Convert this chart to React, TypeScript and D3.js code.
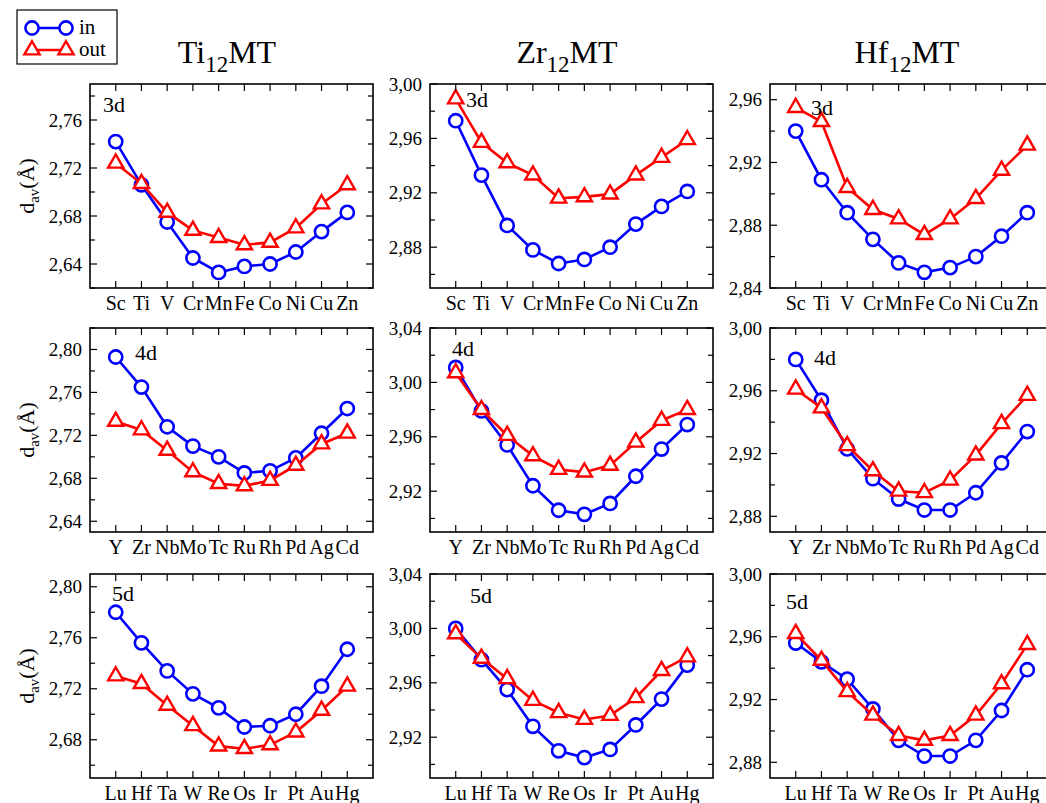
import React from "react";
import * as d3 from "d3";

// ---------- data ----------
const elements3d = ["Sc", "Ti", "V", "Cr", "Mn", "Fe", "Co", "Ni", "Cu", "Zn"];
const elements4d = ["Y", "Zr", "Nb", "Mo", "Tc", "Ru", "Rh", "Pd", "Ag", "Cd"];
const elements5d = ["Lu", "Hf", "Ta", "W", "Re", "Os", "Ir", "Pt", "Au", "Hg"];

const hosts = ["Ti", "Zr", "Hf"];
const rowLabels = ["3d", "4d", "5d"];
const seriesNames = ["in", "out"];

const ti3dIn = [2.742, 2.706, 2.675, 2.645, 2.633, 2.638, 2.64, 2.65, 2.667, 2.683];
const ti3dOut = [2.724, 2.707, 2.683, 2.668, 2.662, 2.656, 2.658, 2.67, 2.69, 2.706];
const zr3dIn = [2.973, 2.933, 2.896, 2.878, 2.868, 2.871, 2.88, 2.897, 2.91, 2.921];
const zr3dOut = [2.989, 2.957, 2.942, 2.933, 2.916, 2.917, 2.919, 2.933, 2.946, 2.959];
const hf3dIn = [2.94, 2.909, 2.888, 2.871, 2.856, 2.85, 2.853, 2.86, 2.873, 2.888];
const hf3dOut = [2.955, 2.946, 2.904, 2.89, 2.884, 2.874, 2.884, 2.897, 2.915, 2.931];

const ti4dIn = [2.793, 2.765, 2.728, 2.71, 2.7, 2.685, 2.687, 2.699, 2.722, 2.745];
const ti4dOut = [2.733, 2.725, 2.706, 2.686, 2.675, 2.673, 2.678, 2.692, 2.712, 2.722];
const zr4dIn = [3.011, 2.979, 2.954, 2.924, 2.906, 2.903, 2.911, 2.931, 2.951, 2.969];
const zr4dOut = [3.007, 2.98, 2.961, 2.946, 2.936, 2.934, 2.939, 2.956, 2.972, 2.98];
const hf4dIn = [2.98, 2.954, 2.923, 2.904, 2.891, 2.884, 2.884, 2.895, 2.914, 2.934];
const hf4dOut = [2.961, 2.949, 2.925, 2.909, 2.896, 2.895, 2.903, 2.919, 2.939, 2.957];

const ti5dIn = [2.78, 2.756, 2.734, 2.716, 2.705, 2.69, 2.691, 2.7, 2.722, 2.751];
const ti5dOut = [2.73, 2.724, 2.707, 2.691, 2.675, 2.673, 2.676, 2.686, 2.703, 2.722];
const zr5dIn = [3.0, 2.977, 2.955, 2.928, 2.91, 2.905, 2.911, 2.929, 2.948, 2.973];
const zr5dOut = [2.996, 2.978, 2.963, 2.947, 2.938, 2.933, 2.936, 2.949, 2.969, 2.979];
const hf5dIn = [2.956, 2.944, 2.933, 2.914, 2.894, 2.884, 2.884, 2.894, 2.913, 2.939];
const hf5dOut = [2.962, 2.945, 2.925, 2.91, 2.897, 2.894, 2.897, 2.91, 2.93, 2.955];

// y-axis ranges per panel [row][col]
const yDomains = [
  [[2.62, 2.79], [2.85, 3.0], [2.84, 2.97]],
  [[2.63, 2.82], [2.89, 3.04], [2.87, 3.0]],
  [[2.65, 2.81], [2.89, 3.04], [2.87, 3.0]],
];

const rowElements = [elements3d, elements4d, elements5d];
const inData = [
  [ti3dIn, zr3dIn, hf3dIn],
  [ti4dIn, zr4dIn, hf4dIn],
  [ti5dIn, zr5dIn, hf5dIn],
];
const outData = [
  [ti3dOut, zr3dOut, hf3dOut],
  [ti4dOut, zr4dOut, hf4dOut],
  [ti5dOut, zr5dOut, hf5dOut],
];

// ---------- layout ----------
const W = 1046;
const H = 803;
const colLeft = [90, 430, 770];
const panelW = 283;
const rowTop = [84, 328, 574];
const panelH = 204;
// panel label offsets (px from panel's top-left)
const labelOffsets = [
  [[13, 28], [36, 23], [41, 31]],
  [[45, 32], [22, 28], [44, 37]],
  [[22, 27], [40, 29], [16, 35]],
];

const BLUE = "#0000ff";
const RED = "#ff0000";
const FONT = "'Liberation Serif', 'Times New Roman', serif";

const fmt = (v: number) => d3.format(".2f")(v).replace(".", ",");
const triPath = d3.symbol().type(d3.symbolTriangle).size(100)() as string;

function Panel({ r, c }: { r: number; c: number }) {
  const left = colLeft[c];
  const top = rowTop[r];
  const cats = rowElements[r];
  const x = d3.scaleLinear().domain([-1, cats.length]).range([left, left + panelW]);
  const y = d3.scaleLinear().domain(yDomains[r][c]).range([top + panelH, top]);
  const [lo, hi] = yDomains[r][c];
  const major: number[] = [];
  const minor: number[] = [];
  for (let k = Math.ceil(lo / 0.02 - 1e-6); k * 0.02 <= hi + 1e-6; k++) {
    const v = +(k * 0.02).toFixed(2);
    if (k % 2 === 0) major.push(v);
    else minor.push(v);
  }
  const line = d3
    .line<number>()
    .x((_, i) => x(i))
    .y((d) => y(d));
  const ins = inData[r][c];
  const outs = outData[r][c];
  const bottom = top + panelH;
  const right = left + panelW;
  const tk = 7;
  const tkm = 5;
  return (
    <g>
      <g clipPath={`url(#clip-${r}-${c})`}>
        <path d={line(ins) as string} fill="none" stroke={BLUE} strokeWidth={2.6} />
        {ins.map((v, i) => (
          <circle key={"i" + i} cx={x(i)} cy={y(v)} r={6.6} fill="#fff" stroke={BLUE} strokeWidth={2.6} />
        ))}
        <path d={line(outs) as string} fill="none" stroke={RED} strokeWidth={2.6} />
        {outs.map((v, i) => (
          <path
            key={"o" + i}
            d={triPath}
            transform={`translate(${x(i)},${y(v)})`}
            fill="#fff"
            stroke={RED}
            strokeWidth={2.4}
          />
        ))}
      </g>
      {/* ticks */}
      {major.map((v) => (
        <g key={"M" + v}>
          <line x1={left} x2={left + tk} y1={y(v)} y2={y(v)} stroke="#000" strokeWidth={1.2} />
          <line x1={right} x2={right - tk} y1={y(v)} y2={y(v)} stroke="#000" strokeWidth={1.2} />
          <text
            x={left - 8}
            y={y(v)}
            dy="0.35em"
            textAnchor="end"
            fontSize={19}
            fontFamily={FONT}
          >
            {fmt(v)}
          </text>
        </g>
      ))}
      {minor.map((v) => (
        <g key={"m" + v}>
          <line x1={left} x2={left + tkm} y1={y(v)} y2={y(v)} stroke="#000" strokeWidth={1.2} />
          <line x1={right} x2={right - tkm} y1={y(v)} y2={y(v)} stroke="#000" strokeWidth={1.2} />
        </g>
      ))}
      {cats.map((name, i) => (
        <g key={name}>
          <line x1={x(i)} x2={x(i)} y1={top} y2={top + tk} stroke="#000" strokeWidth={1.2} />
          <line x1={x(i)} x2={x(i)} y1={bottom} y2={bottom - tk} stroke="#000" strokeWidth={1.2} />
          <text x={x(i)} y={bottom + 22} textAnchor="middle" fontSize={20} fontFamily={FONT}>
            {name}
          </text>
        </g>
      ))}
      <rect x={left} y={top} width={panelW} height={panelH} fill="none" stroke="#000" strokeWidth={1.6} />
      <text
        x={left + labelOffsets[r][c][0]}
        y={top + labelOffsets[r][c][1]}
        fontSize={22}
        fontFamily={FONT}
      >
        {rowLabels[r]}
      </text>
    </g>
  );
}

export default function App() {
  return (
    <svg
      width={W}
      height={H}
      style={{ position: "absolute", left: 0, top: 0, background: "#fff" }}
      xmlns="http://www.w3.org/2000/svg"
    >
      <defs>
        {[0, 1, 2].map((r) =>
          [0, 1, 2].map((c) => (
            <clipPath id={`clip-${r}-${c}`} key={`${r}-${c}`}>
              <rect x={colLeft[c] - 10} y={rowTop[r] - 10} width={panelW + 20} height={panelH + 20} />
            </clipPath>
          ))
        )}
      </defs>
      <rect width={W} height={H} fill="#fff" />
      {/* titles */}
      {hosts.map((h, c) => (
        <text
          key={h}
          x={colLeft[c] + 137}
          y={63}
          textAnchor="middle"
          fontSize={32}
          fontFamily={FONT}
        >
          {h}
          <tspan fontSize={23} dy={9}>12</tspan>
          <tspan dy={-9}>MT</tspan>
        </text>
      ))}
      {/* y-axis labels */}
      {rowTop.map((t, r) => (
        <text
          key={"yl" + r}
          transform={`translate(34,${t + panelH / 2}) rotate(-90)`}
          textAnchor="middle"
          fontSize={22}
          fontFamily={FONT}
        >
          d<tspan fontSize={15} dy={5}>av</tspan>
          <tspan dy={-5}>(Å)</tspan>
        </text>
      ))}
      {[0, 1, 2].map((r) => [0, 1, 2].map((c) => <Panel key={`p${r}${c}`} r={r} c={c} />))}
      {/* legend */}
      <g>
        <rect x={17} y={10} width={100} height={54} fill="#fff" stroke="#000" strokeWidth={1.2} />
        <line x1={32} x2={66} y1={28} y2={28} stroke={BLUE} strokeWidth={2.6} />
        <circle cx={32} cy={28} r={6.6} fill="#fff" stroke={BLUE} strokeWidth={2.6} />
        <circle cx={66} cy={28} r={6.6} fill="#fff" stroke={BLUE} strokeWidth={2.6} />
        <text x={79} y={34} fontSize={21} fontFamily={FONT}>
          {seriesNames[0]}
        </text>
        <line x1={32} x2={66} y1={50} y2={50} stroke={RED} strokeWidth={2.6} />
        <path d={triPath} transform="translate(32,50)" fill="#fff" stroke={RED} strokeWidth={2.4} />
        <path d={triPath} transform="translate(66,50)" fill="#fff" stroke={RED} strokeWidth={2.4} />
        <text x={79} y={56} fontSize={21} fontFamily={FONT}>
          {seriesNames[1]}
        </text>
      </g>
    </svg>
  );
}
